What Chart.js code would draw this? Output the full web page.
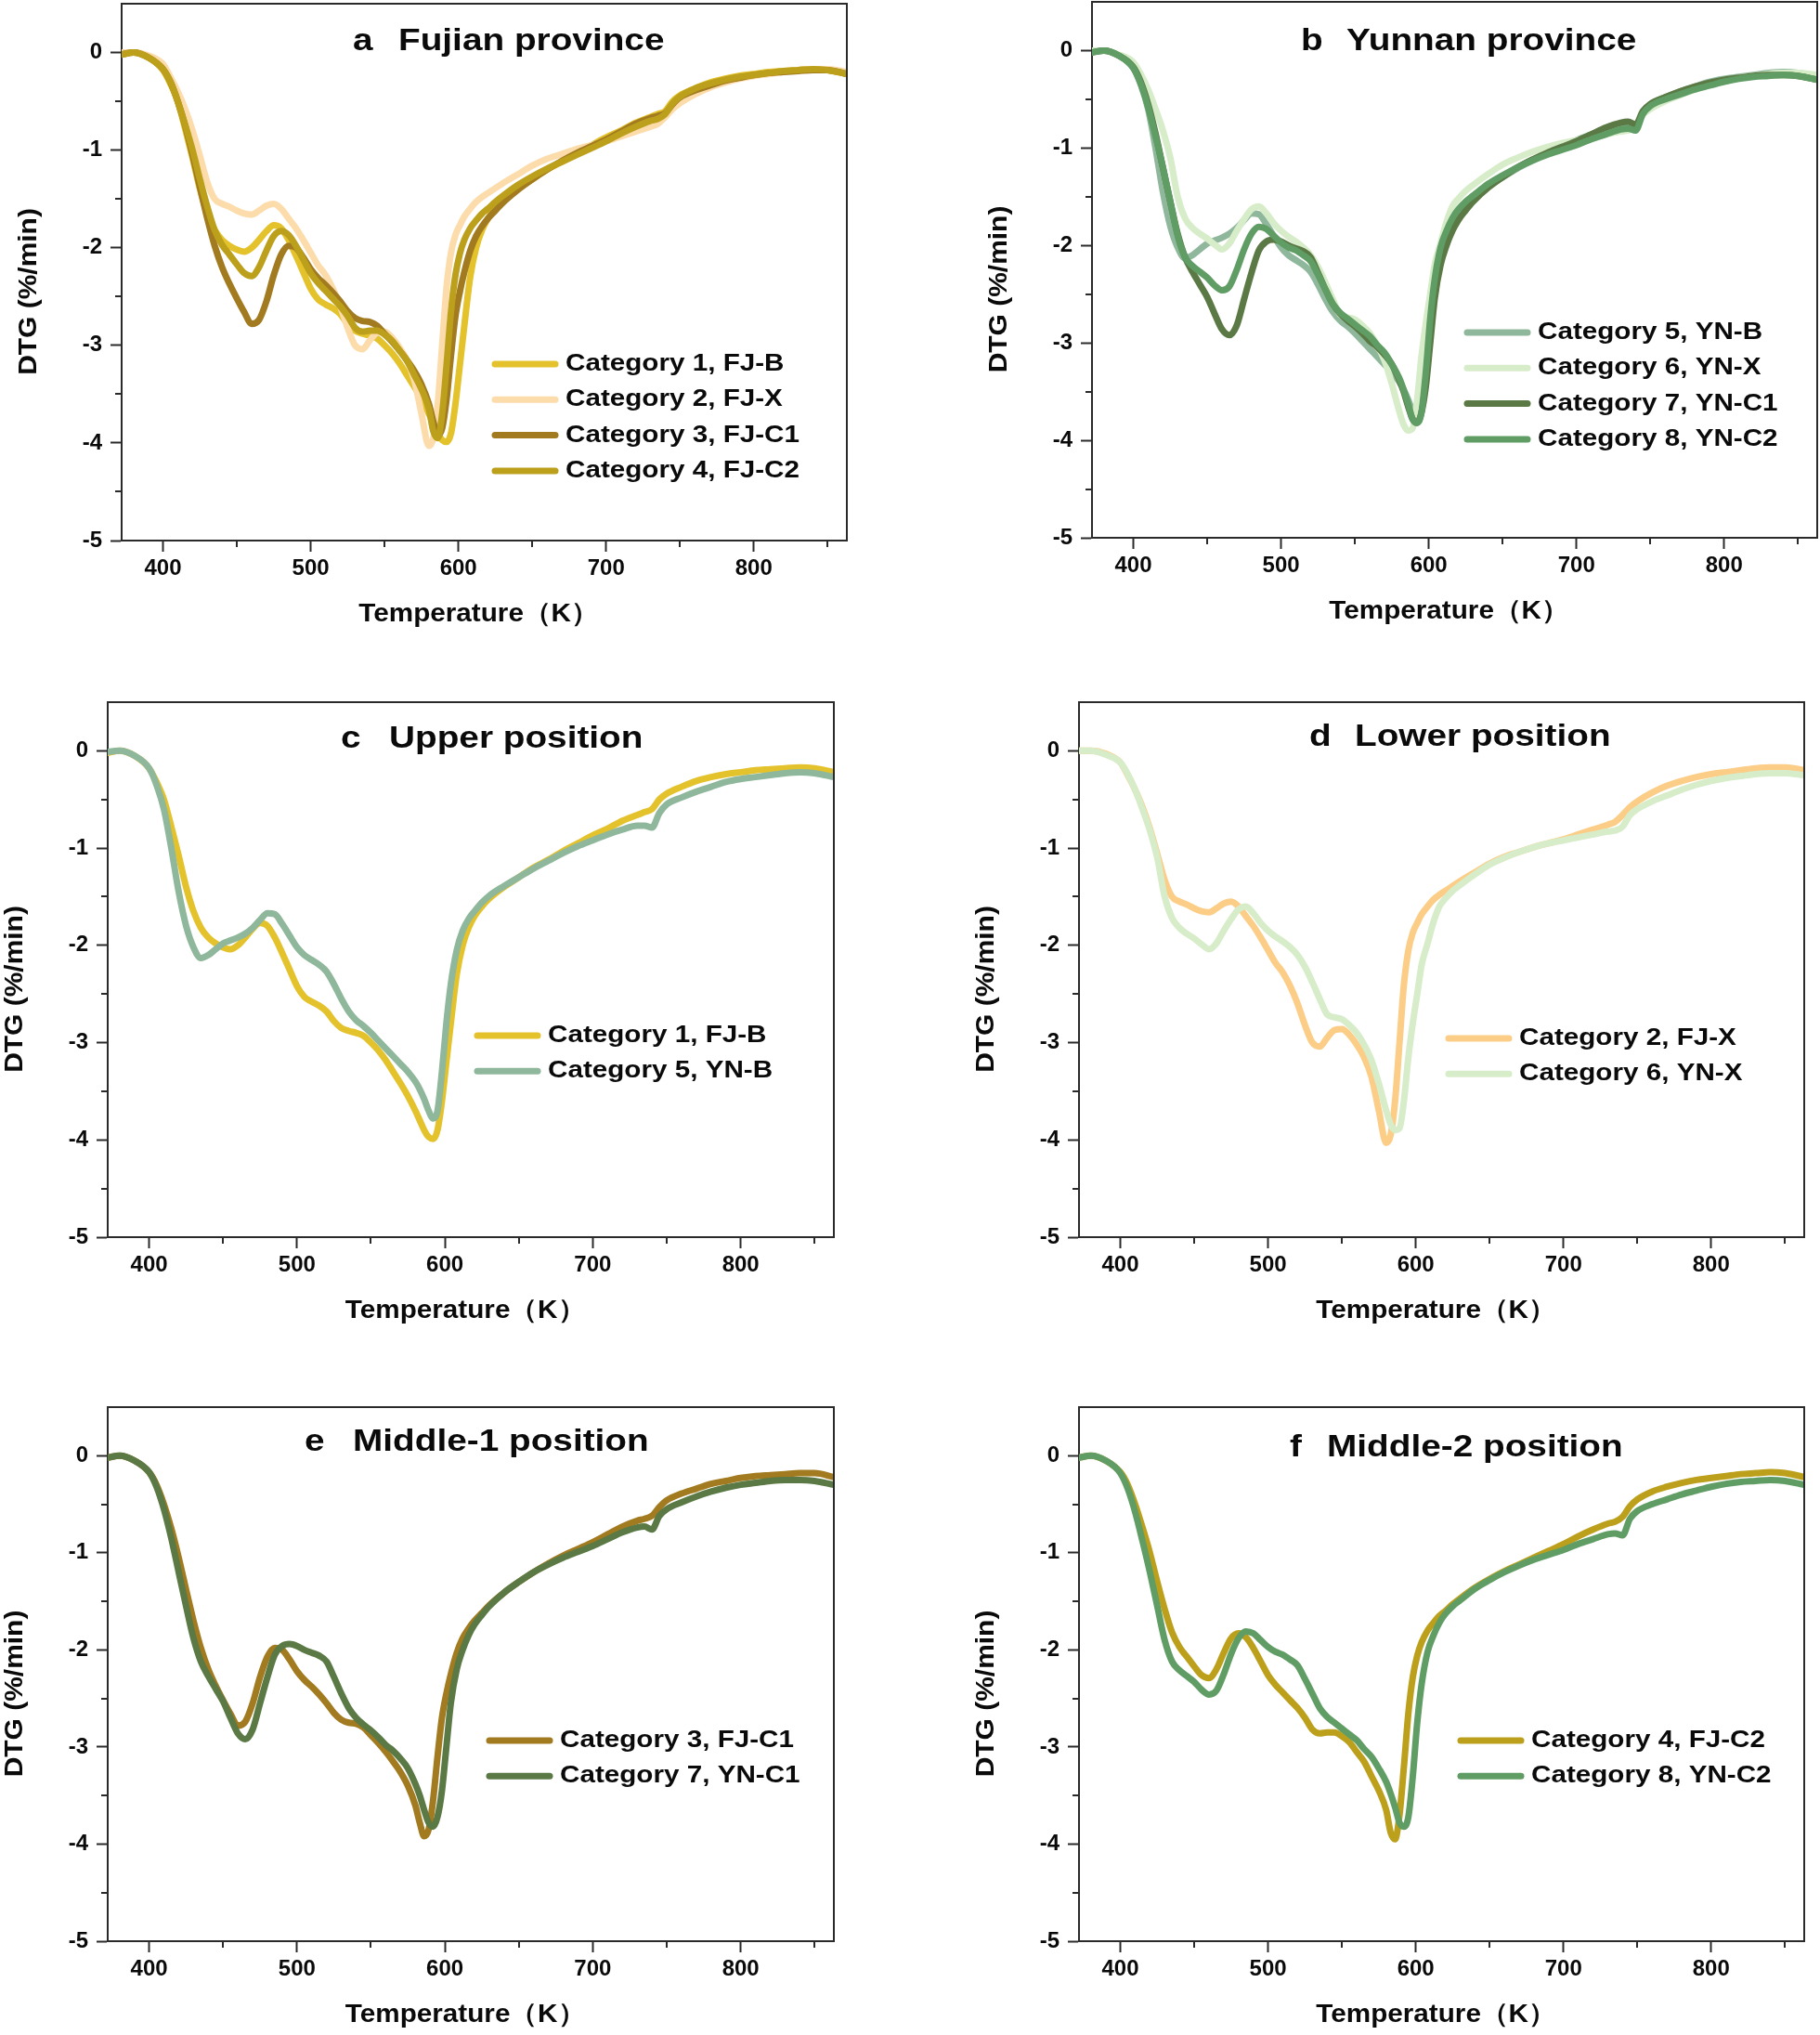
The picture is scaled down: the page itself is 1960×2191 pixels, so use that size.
<!DOCTYPE html>
<html><head><meta charset="utf-8">
<script src="https://cdn.jsdelivr.net/npm/chart.js@4.4.1/dist/chart.umd.min.js"></script>
<style>
html,body{margin:0;padding:0;background:#fff;}
body{width:1960px;height:2191px;overflow:hidden;position:relative;}
canvas{position:absolute;}
</style></head><body>
<script>
// ---------------- DATA ----------------
const temperatureK = [372,380,390,400,405,410,415,420,425,430,435,440,445,450,455,460,465,470,475,480,485,490,495,500,505,510,515,520,525,530,535,540,545,550,555,560,565,570,575,580,583,586,589,592,595,598,601,604,608,612,616,620,625,630,640,650,660,670,680,690,700,710,720,730,735,740,745,750,760,770,780,790,800,810,820,830,840,850,863];

const cat1_FJ_B = [-0.02,0,-0.05,-0.18,-0.32,-0.5,-0.78,-1.08,-1.4,-1.65,-1.82,-1.92,-1.98,-2.02,-2.04,-2.0,-1.92,-1.83,-1.77,-1.8,-1.92,-2.08,-2.25,-2.42,-2.53,-2.58,-2.62,-2.68,-2.78,-2.85,-2.88,-2.9,-2.93,-3.0,-3.08,-3.18,-3.3,-3.42,-3.55,-3.7,-3.8,-3.9,-3.97,-3.99,-3.9,-3.6,-3.2,-2.8,-2.3,-2.0,-1.82,-1.7,-1.6,-1.52,-1.4,-1.3,-1.2,-1.12,-1.03,-0.95,-0.87,-0.8,-0.72,-0.66,-0.63,-0.6,-0.5,-0.44,-0.37,-0.31,-0.27,-0.24,-0.22,-0.2,-0.19,-0.18,-0.17,-0.18,-0.22];

const cat2_FJ_X = [0,0,-0.03,-0.12,-0.25,-0.4,-0.58,-0.8,-1.06,-1.33,-1.5,-1.55,-1.58,-1.62,-1.65,-1.66,-1.62,-1.57,-1.55,-1.6,-1.7,-1.8,-1.92,-2.05,-2.18,-2.28,-2.42,-2.6,-2.82,-3.0,-3.04,-2.95,-2.87,-2.86,-2.92,-3.02,-3.15,-3.35,-3.7,-4.03,-3.95,-3.6,-3.0,-2.4,-2.05,-1.87,-1.77,-1.68,-1.6,-1.53,-1.48,-1.44,-1.39,-1.34,-1.25,-1.16,-1.09,-1.04,-0.99,-0.95,-0.91,-0.86,-0.81,-0.76,-0.73,-0.66,-0.58,-0.52,-0.43,-0.36,-0.31,-0.27,-0.24,-0.22,-0.2,-0.18,-0.17,-0.17,-0.2];

const cat3_FJ_C1 = [-0.02,0,-0.05,-0.17,-0.3,-0.5,-0.75,-1.05,-1.38,-1.7,-1.98,-2.2,-2.37,-2.52,-2.66,-2.78,-2.74,-2.55,-2.28,-2.07,-1.98,-2.0,-2.1,-2.22,-2.31,-2.38,-2.46,-2.55,-2.65,-2.72,-2.75,-2.76,-2.8,-2.88,-2.96,-3.05,-3.15,-3.26,-3.4,-3.6,-3.78,-3.92,-3.85,-3.55,-3.1,-2.7,-2.45,-2.25,-2.03,-1.88,-1.78,-1.7,-1.62,-1.54,-1.41,-1.3,-1.2,-1.11,-1.03,-0.96,-0.89,-0.81,-0.73,-0.67,-0.65,-0.62,-0.53,-0.46,-0.39,-0.34,-0.29,-0.26,-0.23,-0.21,-0.2,-0.19,-0.18,-0.18,-0.22];

const cat4_FJ_C2 = [-0.02,0,-0.05,-0.17,-0.3,-0.5,-0.74,-1.0,-1.3,-1.58,-1.82,-1.97,-2.07,-2.17,-2.26,-2.29,-2.2,-2.03,-1.88,-1.83,-1.87,-1.98,-2.12,-2.26,-2.36,-2.44,-2.52,-2.6,-2.7,-2.82,-2.86,-2.85,-2.85,-2.89,-2.95,-3.05,-3.15,-3.3,-3.45,-3.65,-3.88,-3.95,-3.7,-3.2,-2.65,-2.28,-2.06,-1.92,-1.8,-1.72,-1.65,-1.6,-1.53,-1.47,-1.36,-1.27,-1.19,-1.12,-1.05,-0.98,-0.91,-0.83,-0.76,-0.7,-0.68,-0.63,-0.52,-0.45,-0.37,-0.32,-0.28,-0.25,-0.23,-0.21,-0.19,-0.18,-0.17,-0.18,-0.22];

const cat5_YN_B = [-0.01,0,-0.05,-0.18,-0.35,-0.6,-1.0,-1.45,-1.8,-2.02,-2.13,-2.1,-2.04,-1.98,-1.95,-1.92,-1.88,-1.82,-1.74,-1.67,-1.68,-1.78,-1.9,-2.02,-2.1,-2.15,-2.2,-2.27,-2.4,-2.55,-2.68,-2.77,-2.83,-2.9,-2.98,-3.06,-3.14,-3.22,-3.3,-3.4,-3.48,-3.58,-3.7,-3.78,-3.7,-3.3,-2.8,-2.4,-2.05,-1.85,-1.73,-1.65,-1.56,-1.49,-1.39,-1.3,-1.21,-1.13,-1.05,-0.98,-0.92,-0.86,-0.81,-0.77,-0.77,-0.79,-0.64,-0.55,-0.48,-0.42,-0.37,-0.32,-0.29,-0.27,-0.25,-0.23,-0.22,-0.23,-0.27];

const cat6_YN_X = [0,0,-0.04,-0.12,-0.24,-0.4,-0.6,-0.82,-1.1,-1.5,-1.72,-1.82,-1.88,-1.93,-1.99,-2.04,-1.98,-1.85,-1.73,-1.63,-1.6,-1.67,-1.77,-1.85,-1.91,-1.96,-2.02,-2.1,-2.22,-2.38,-2.55,-2.71,-2.74,-2.76,-2.82,-2.9,-3.02,-3.18,-3.42,-3.7,-3.84,-3.9,-3.88,-3.6,-3.15,-2.8,-2.5,-2.2,-1.98,-1.76,-1.6,-1.52,-1.44,-1.38,-1.27,-1.17,-1.1,-1.04,-0.99,-0.95,-0.92,-0.89,-0.86,-0.83,-0.82,-0.78,-0.66,-0.6,-0.52,-0.46,-0.4,-0.35,-0.31,-0.28,-0.26,-0.24,-0.23,-0.23,-0.25];

const cat7_YN_C1 = [-0.02,0,-0.05,-0.17,-0.32,-0.55,-0.85,-1.2,-1.55,-1.88,-2.12,-2.27,-2.4,-2.53,-2.7,-2.86,-2.92,-2.82,-2.55,-2.28,-2.05,-1.96,-1.94,-1.96,-2.0,-2.03,-2.06,-2.12,-2.28,-2.45,-2.6,-2.7,-2.77,-2.83,-2.9,-2.98,-3.04,-3.12,-3.22,-3.38,-3.5,-3.65,-3.78,-3.82,-3.72,-3.45,-3.0,-2.55,-2.2,-2.0,-1.85,-1.74,-1.64,-1.55,-1.41,-1.3,-1.2,-1.12,-1.05,-0.99,-0.93,-0.86,-0.79,-0.74,-0.73,-0.76,-0.62,-0.55,-0.48,-0.42,-0.37,-0.33,-0.3,-0.28,-0.26,-0.25,-0.25,-0.26,-0.3];

const cat8_YN_C2 = [-0.02,0,-0.05,-0.18,-0.34,-0.58,-0.88,-1.2,-1.55,-1.9,-2.12,-2.21,-2.27,-2.33,-2.41,-2.46,-2.42,-2.25,-2.04,-1.88,-1.81,-1.83,-1.9,-1.97,-2.02,-2.05,-2.1,-2.16,-2.3,-2.45,-2.6,-2.69,-2.75,-2.81,-2.87,-2.93,-3.02,-3.1,-3.22,-3.36,-3.48,-3.62,-3.78,-3.82,-3.72,-3.3,-2.75,-2.35,-2.02,-1.85,-1.72,-1.63,-1.55,-1.49,-1.37,-1.28,-1.2,-1.13,-1.07,-1.02,-0.97,-0.91,-0.86,-0.81,-0.8,-0.82,-0.65,-0.57,-0.5,-0.45,-0.4,-0.36,-0.32,-0.29,-0.27,-0.26,-0.25,-0.26,-0.3];

const categoryLabels = ['Category 1, FJ-B','Category 2, FJ-X','Category 3, FJ-C1','Category 4, FJ-C2',
                        'Category 5, YN-B','Category 6, YN-X','Category 7, YN-C1','Category 8, YN-C2'];
const seriesValues = [cat1_FJ_B, cat2_FJ_X, cat3_FJ_C1, cat4_FJ_C2, cat5_YN_B, cat6_YN_X, cat7_YN_C1, cat8_YN_C2];
const panelLetters = ['a','b','c','d','e','f'];
const panelTitles = ['Fujian province','Yunnan province','Upper position','Lower position','Middle-1 position','Middle-2 position'];
const panelSeries = [[0,1,2,3],[4,5,6,7],[0,4],[1,5],[2,6],[3,7]];
const xTickLabels = [400,500,600,700,800];
const xMinorTicks = [450,550,650,750,850];
const yTickLabels = [-5,-4,-3,-2,-1,0];
const yMinorTicks = [-4.5,-3.5,-2.5,-1.5,-0.5];
const xTitle = 'Temperature（K）';
const yTitle = 'DTG (%/min)';

// ---------------- STYLE / LAYOUT ----------------
const FONT = '"Liberation Sans", Arial, Helvetica, sans-serif';
const baseColors = ['#E3C22C','#FDDCAC','#A27A1F','#BCA01C','#8FB79B','#D7ECC9','#5A7944','#5F9D64'];
const panelColorOverride = {3:{1:'#FCCD86'}};
const panels = [
  {L:131, T:4,   R:912,  B:582,  letterX:249, textX:298, titleY:41, legX:399, legY:388},
  {L:1176,T:2,   R:1957, B:579,  letterX:225, textX:274, titleY:43, legX:401, legY:356},
  {L:116, T:756, R:898,  B:1332, letterX:251, textX:303, titleY:40, legX:395, legY:359},
  {L:1162,T:756, R:1943, B:1332, letterX:248, textX:297, titleY:38, legX:395, legY:362},
  {L:116, T:1515,R:898,  B:2090, letterX:212, textX:264, titleY:38, legX:408, legY:359},
  {L:1162,T:1515,R:1943, B:2090, letterX:227, textX:267, titleY:44, legX:408, legY:359}
];
const Y_AXIS_W = 131, X_AXIS_H = 110, PAD_T = 2, PAD_R = 3;
const LINE_W = 7;

function drawScaledText(ctx, str, x, y, font, sx, align){
  ctx.save();
  ctx.font = font; ctx.textBaseline = 'middle'; ctx.textAlign = align || 'left';
  ctx.fillStyle = '#0a0a0a';
  ctx.translate(x, y); ctx.scale(sx, 1);
  ctx.fillText(str, 0, 0);
  ctx.restore();
}

const decorPlugin = {
  id: 'decor',
  afterDraw(chart){
    const o = chart.options.plugins.decor;
    const ca = chart.chartArea, ctx = chart.ctx;
    const xs = chart.scales.x, ys = chart.scales.y;
    ctx.save();
    ctx.strokeStyle = '#2a2a2a'; ctx.lineWidth = 2; ctx.lineCap = 'butt';
    ctx.beginPath();
    ctx.moveTo(ca.left, ca.top); ctx.lineTo(ca.right, ca.top); ctx.lineTo(ca.right, ca.bottom);
    xMinorTicks.forEach(v => { const px = Math.round(xs.getPixelForValue(v)); ctx.moveTo(px, ca.bottom); ctx.lineTo(px, ca.bottom + 7); });
    yMinorTicks.forEach(v => { const py = Math.round(ys.getPixelForValue(v)); ctx.moveTo(ca.left, py); ctx.lineTo(ca.left - 7, py); });
    ctx.stroke();
    ctx.restore();
    // panel title
    const tf = 'bold 34px ' + FONT;
    drawScaledText(ctx, o.letter, ca.left + o.p.letterX, ca.top + o.p.titleY, tf, 1.14, 'left');
    drawScaledText(ctx, o.title, ca.left + o.p.textX, ca.top + o.p.titleY, tf, 1.14, 'left');
    // legend
    const lf = 'bold 26px ' + FONT;
    chart.data.datasets.forEach((ds, i) => {
      const y = ca.top + o.p.legY + i * 38.3;
      const x0 = ca.left + o.p.legX;
      ctx.save();
      ctx.strokeStyle = ds.borderColor; ctx.lineWidth = LINE_W; ctx.lineCap = 'round';
      ctx.beginPath(); ctx.moveTo(x0 + 3, y); ctx.lineTo(x0 + 68, y); ctx.stroke();
      ctx.restore();
      drawScaledText(ctx, ds.label, x0 + 79, y, lf, 1.14, 'left');
    });
    // axis titles
    const af = 'bold 28px ' + FONT;
    drawScaledText(ctx, xTitle, (ca.left + ca.right) / 2 - 6, ca.bottom + 79, af, 1.06, 'center');
    ctx.save();
    ctx.translate(ca.left - 100, (ca.top + ca.bottom) / 2 + 21);
    ctx.rotate(-Math.PI / 2);
    drawScaledText(ctx, yTitle, 0, 0, af, 1.07, 'center');
    ctx.restore();
  }
};

panels.forEach((p, pi) => {
  const cv = document.createElement('canvas');
  const w = Y_AXIS_W + (p.R - p.L) + PAD_R;
  const h = PAD_T + (p.B - p.T) + X_AXIS_H;
  cv.width = w; cv.height = h;
  cv.style.left = (p.L - Y_AXIS_W) + 'px';
  cv.style.top = (p.T - PAD_T) + 'px';
  cv.style.width = w + 'px'; cv.style.height = h + 'px';
  document.body.appendChild(cv);

  const sIdx = panelSeries[pi];
  const datasets = sIdx.map((si, k) => {
    const col = (panelColorOverride[pi] && panelColorOverride[pi][si]) || baseColors[si];
    return {
      label: categoryLabels[si],
      data: temperatureK.map((t, j) => ({x: t, y: seriesValues[si][j]})),
      borderColor: col,
      backgroundColor: col,
      borderWidth: LINE_W,
      pointRadius: 0,
      fill: false,
      cubicInterpolationMode: 'monotone',
      borderCapStyle: 'round',
      borderJoinStyle: 'round',
      order: sIdx.length - k
    };
  });

  new Chart(cv, {
    type: 'line',
    data: {datasets},
    plugins: [decorPlugin],
    options: {
      responsive: false,
      animation: false,
      devicePixelRatio: 1,
      layout: {padding: {top: PAD_T, right: PAD_R, left: 0, bottom: 0}},
      plugins: {
        legend: {display: false},
        title: {display: false},
        tooltip: {enabled: false},
        decor: {letter: panelLetters[pi], title: panelTitles[pi], p: p}
      },
      scales: {
        x: {
          type: 'linear', min: 372, max: 863,
          afterFit: s => { s.height = X_AXIS_H; s.paddingLeft = 0; s.paddingRight = 0; },
          afterBuildTicks: s => { s.ticks = xTickLabels.map(v => ({value: v})); },
          border: {display: true, color: '#2a2a2a', width: 2},
          grid: {display: true, drawOnChartArea: false, drawTicks: true, tickLength: 12, tickColor: '#2a2a2a', tickWidth: 2},
          ticks: {padding: 4, color: '#0a0a0a', maxRotation: 0, autoSkip: false,
                  font: {family: FONT, size: 24, weight: 'bold'}}
        },
        y: {
          type: 'linear', min: -5, max: 0.5,
          afterFit: s => { s.width = Y_AXIS_W; s.paddingTop = 0; s.paddingBottom = 0; },
          afterBuildTicks: s => { s.ticks = yTickLabels.map(v => ({value: v})); },
          border: {display: true, color: '#2a2a2a', width: 2},
          grid: {display: true, drawOnChartArea: false, drawTicks: true, tickLength: 12, tickColor: '#2a2a2a', tickWidth: 2},
          ticks: {padding: 9, color: '#0a0a0a', autoSkip: false,
                  font: {family: FONT, size: 24, weight: 'bold'}}
        }
      }
    }
  });
});
</script>
</body></html>
